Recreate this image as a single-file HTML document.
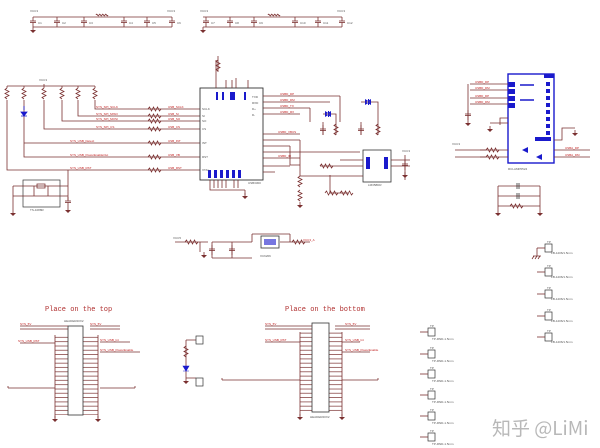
<!DOCTYPE html>
<html><head><meta charset="utf-8"><style>
html,body{margin:0;padding:0;background:#fff;width:600px;height:448px;overflow:hidden}
svg{display:block}
.w{stroke:#7a3030;stroke-width:0.8;fill:none}
.b{stroke:#1a1acc;fill:none}
.t{font-family:"Liberation Sans",sans-serif;font-size:3px;fill:#555}
.r{font-family:"Liberation Sans",sans-serif;font-size:3px;fill:#c02020}
</style></head><body>
<svg width="600" height="448" viewBox="0 0 600 448" xmlns="http://www.w3.org/2000/svg">
<defs>
<pattern id="pins" width="10" height="4.3" patternUnits="userSpaceOnUse"><line x1="0" y1="2" x2="10" y2="2" stroke="#7a3030" stroke-width="0.7"/></pattern>
<g id="cap"><line x1="0" y1="0" x2="0" y2="4" class="w"/><line x1="-3" y1="4" x2="3" y2="4" class="w"/><line x1="-3" y1="5.5" x2="3" y2="5.5" class="w"/><line x1="0" y1="5.5" x2="0" y2="10" class="w"/></g>
<g id="gnd"><line x1="0" y1="0" x2="0" y2="3" class="w"/><path d="M-3 3H3L0 6Z" fill="#7a3030"/></g>
<g id="res"><path d="M0 0l1.5 -2l2 4l2 -4l2 4l2 -4l2 4l1.5 -2" class="w"/></g>
<g id="vres"><path d="M0 0l-2 1.5l4 2l-4 2l4 2l-4 2l2 1.5" class="w"/></g>
<g id="tp"><rect x="0" y="0" width="7" height="8" fill="none" stroke="#333" stroke-width="0.7"/><line x1="-8" y1="4" x2="0" y2="4" class="w"/><text x="2" y="-1" class="t">TP</text><text x="4" y="12" class="t">TP-RND-1.5mm</text></g>
<g id="tp2"><rect x="0" y="0" width="7" height="8" fill="none" stroke="#333" stroke-width="0.7"/><line x1="-8" y1="4" x2="0" y2="4" class="w"/><text x="2" y="-1" class="t">TP</text><text x="6" y="10" class="t">FB-1206/1.5mm</text></g>
</defs>

<!-- top power rails -->
<path d="M33 17H172M33 27H172M203 17H342M203 27H342" class="w"/>
<use href="#gnd" x="33" y="27"/><use href="#gnd" x="203" y="27"/>
<g>
<use href="#cap" x="33" y="17"/><use href="#cap" x="57" y="17"/><use href="#cap" x="84" y="17"/><use href="#cap" x="124" y="17"/><use href="#cap" x="147" y="17"/><use href="#cap" x="172" y="17"/>
<use href="#cap" x="206" y="17"/><use href="#cap" x="230" y="17"/><use href="#cap" x="254" y="17"/><use href="#cap" x="295" y="17"/><use href="#cap" x="318" y="17"/><use href="#cap" x="342" y="17"/>
</g>
<path d="M96 15c1-3 2 3 3 0c1-3 2 3 3 0c1-3 2 3 3 0c1-3 2 3 3 0M268 15c1-3 2 3 3 0c1-3 2 3 3 0c1-3 2 3 3 0c1-3 2 3 3 0" class="w"/>
<text x="30" y="12" class="t">VCC3</text><text x="167" y="12" class="t">VCC3</text><text x="200" y="12" class="t">VCC3</text><text x="337" y="12" class="t">VCC3</text>
<text x="38" y="24" class="t">C1</text><text x="62" y="24" class="t">C2</text><text x="89" y="24" class="t">C3</text><text x="129" y="24" class="t">C4</text><text x="152" y="24" class="t">C5</text><text x="177" y="24" class="t">C6</text>
<text x="211" y="24" class="t">C7</text><text x="235" y="24" class="t">C8</text><text x="259" y="24" class="t">C9</text><text x="300" y="24" class="t">C10</text><text x="323" y="24" class="t">C11</text><text x="347" y="24" class="t">C12</text>

<!-- left resistor bank -->
<path d="M7 86H95M44 84V86" class="w"/><text x="39" y="81" class="t">VCC3</text>
<g><use href="#vres" x="7" y="88"/><use href="#vres" x="24" y="88"/><use href="#vres" x="44" y="88"/><use href="#vres" x="62" y="88"/><use href="#vres" x="78" y="88"/><use href="#vres" x="95" y="88"/></g>
<path d="M7 86V88M24 86V88M44 86V88M62 86V88M78 86V88M95 86V88" class="w"/>
<path d="M95 100V109H200M78 100V116H200M62 100V121H200M44 100V129H200M24 100V143H200M24 143V157H200M7 100V170H200M24 143V100" class="w"/>
<path d="M24 106V110M21 112H27L24 116ZM21 116H27" fill="#1a1acc" stroke="#1a1acc" stroke-width="0.8"/>
<path d="M68 170V186" class="w"/>
<use href="#res" x="148" y="109"/><use href="#res" x="148" y="116"/><use href="#res" x="148" y="121"/><use href="#res" x="148" y="129"/><use href="#res" x="148" y="143"/><use href="#res" x="148" y="157"/><use href="#res" x="148" y="170"/>
<g class="r"><text x="96" y="108">SYS_SPI_SCLK</text><text x="96" y="115">SYS_SPI_MISO</text><text x="96" y="120">SYS_SPI_MOSI</text><text x="96" y="128">SYS_SPI_CS</text><text x="70" y="142">SYS_USB_Detect</text><text x="70" y="156">SYS_USB_PowerEnableOut</text><text x="70" y="169">SYS_USB_RST</text>
<text x="168" y="108">USB_SCLK</text><text x="168" y="115">USB_SI</text><text x="168" y="120">USB_SO</text><text x="168" y="128">USB_CS</text><text x="168" y="142">USB_INT</text><text x="168" y="156">USB_VB</text><text x="168" y="169">USB_RST</text></g>
<!-- switch -->
<rect x="23" y="180" width="37" height="27" fill="none" stroke="#333" stroke-width="0.7"/>
<path d="M13 186H68M13 196H68M13 186V210M68 186V200M34 186V196M48 186V196M37 184H45V188H37Z" class="w"/>
<use href="#gnd" x="13" y="210"/><use href="#gnd" x="68" y="207"/><use href="#cap" x="68" y="197"/>
<text x="30" y="211" class="t">TS-1088R</text>

<!-- U1 -->
<rect x="200" y="88" width="63" height="92" fill="none" stroke="#333" stroke-width="0.9"/>
<path d="M216 60V88M218 56V72M226 80V88M232 80V88M236 78V88M248 80V88" class="w"/>
<use href="#vres" x="218" y="60"/>
<path d="M210 180V190H245M245 190V195" class="w"/><use href="#gnd" x="245" y="193"/>
<path d="M214 180V188M218 180V188M222 180V188M226 180V188M234 180V188M238 180V188" class="w"/>
<g fill="#1a1acc"><rect x="208" y="170" width="3" height="8"/><rect x="214" y="170" width="3" height="8"/><rect x="220" y="170" width="3" height="8"/><rect x="226" y="170" width="3" height="8"/><rect x="232" y="170" width="3" height="8"/><rect x="238" y="170" width="3" height="8"/>
<rect x="216" y="92" width="2" height="8"/><rect x="222" y="92" width="2" height="8"/><rect x="230" y="92" width="5" height="8"/><rect x="244" y="92" width="2" height="8"/></g>
<g class="t"><text x="202" y="110">SCLK</text><text x="202" y="117">SI</text><text x="202" y="122">SO</text><text x="202" y="130">CS</text><text x="202" y="144">INT</text><text x="202" y="158">RST</text><text x="202" y="171">XTAL</text><text x="252" y="98">TXD</text><text x="252" y="104">RXD</text><text x="252" y="110">D+</text><text x="252" y="116">D-</text><text x="248" y="184">USB3300</text></g>
<path d="M263 96H340M263 102H330M263 108H310M263 114H300M263 134H300M263 140H300M263 146H290M263 152H360M263 158H300M263 166H290M263 172H275" class="w"/>
<g class="r"><text x="280" y="95">USBD_DP</text><text x="280" y="101">USBD_DM</text><text x="280" y="107">USBD_TX</text><text x="280" y="113">USBD_RX</text><text x="278" y="133">USBD_VBUS</text><text x="278" y="157">USBD_ID</text></g>
<!-- diodes & caps right of U1 -->
<path d="M340 96V122M361 102H378V122M323 114H336V122M310 108V122M378 122V135M361 122V135M323 122V135M336 122V135" class="w"/>
<path d="M365 99L370 102L365 105ZM371 99L366 102L371 105ZM325 111L330 114L325 117ZM331 111L326 114L331 117Z" fill="#1a1acc"/>
<g fill="#1a1acc"><rect x="368" y="99" width="1" height="6"/><rect x="328" y="111" width="1" height="6"/></g>
<use href="#cap" x="323" y="125"/><use href="#cap" x="361" y="125"/>
<use href="#vres" x="336" y="124"/><use href="#vres" x="378" y="124"/>
<!-- opamp -->
<rect x="363" y="150" width="28" height="32" fill="none" stroke="#333" stroke-width="0.8"/>
<rect x="366" y="157" width="4" height="12" fill="#1a1acc"/><rect x="384" y="157" width="4" height="12" fill="#1a1acc"/>
<path d="M290 146V165H300M300 140V176H363M340 160H363M320 166H363M330 175V193H348M391 160H410M391 166H410M405 155V170M405 170V180" class="w"/>
<use href="#res" x="320" y="166"/><use href="#res" x="325" y="193"/><use href="#res" x="340" y="193"/>
<use href="#vres" x="300" y="176"/><use href="#vres" x="300" y="190"/><use href="#gnd" x="300" y="202"/>
<use href="#cap" x="405" y="160"/><use href="#gnd" x="405" y="172"/>
<text x="368" y="186" class="t">LM358DR</text><text x="402" y="152" class="t">VCC3</text>

<!-- U3 -->
<rect x="508" y="74" width="46" height="89" fill="none" stroke="#1a1acc" stroke-width="1.4"/>
<g fill="#1a1acc"><rect x="544" y="74" width="10" height="4"/><rect x="508" y="82" width="7" height="5"/><rect x="508" y="89" width="7" height="5"/><rect x="508" y="96" width="7" height="5"/><rect x="508" y="103" width="7" height="5"/><rect x="535" y="137" width="16" height="4"/>
<rect x="546" y="82" width="4" height="4"/><rect x="546" y="89" width="4" height="4"/><rect x="546" y="96" width="4" height="4"/><rect x="546" y="103" width="4" height="4"/><rect x="546" y="110" width="4" height="4"/><rect x="546" y="117" width="4" height="4"/><rect x="546" y="124" width="4" height="4"/><rect x="546" y="131" width="4" height="4"/>
<path d="M522 150L528 147L528 153ZM536 157L542 154L542 160Z"/></g>
<path d="M520 85h14M520 100h14" stroke="#1a1acc" stroke-width="1.5" fill="none"/>
<path d="M468 84V120M470 84H508M470 90H508M470 98H508M470 104H508M508 118H500V125M490 123H508M480 150H508M480 157H508M554 150H590M554 157H590M554 140H562V128H575" class="w"/>
<use href="#cap" x="468" y="110"/><use href="#gnd" x="468" y="120"/><use href="#gnd" x="490" y="126"/><use href="#gnd" x="575" y="130"/>
<use href="#res" x="486" y="150"/><use href="#res" x="486" y="157"/>
<path d="M455 150H486M455 157H486" class="w"/><text x="452" y="145" class="t">VCC3</text>
<g class="r"><text x="475" y="83">USBD_DP</text><text x="475" y="89">USBD_DM</text><text x="475" y="97">USBD_DP</text><text x="475" y="103">USBD_DM</text><text x="565" y="149">USBA_DP</text><text x="565" y="156">USBA_DM</text></g>
<text x="508" y="170" class="t">RCLAMP0524</text>
<!-- U3 bottom caps -->
<path d="M498 186H540M498 196H540M498 206H540M498 186V210M540 186V210" class="w"/>
<path d="M517 183V189M519 183V189M517 193V199M519 193V199" stroke="#333" stroke-width="0.8"/>
<use href="#res" x="510" y="206"/><use href="#gnd" x="498" y="210"/><use href="#gnd" x="540" y="210"/>

<!-- crystal / regulator -->
<path d="M175 242H208M200 242V252M212 242H252M212 242V258M232 242V258M212 258H252M252 234V242M252 234H290M290 234V242M280 242H310" class="w"/>
<use href="#res" x="185" y="242"/><use href="#res" x="292" y="242"/>
<use href="#cap" x="212" y="245"/><use href="#cap" x="232" y="245"/><use href="#gnd" x="204" y="252"/>
<rect x="261" y="236" width="18" height="12" fill="none" stroke="#333" stroke-width="0.8"/>
<rect x="264" y="239" width="12" height="6" fill="#1a1acc" opacity="0.6"/>
<text x="260" y="257" class="t">XC6206</text><text x="173" y="239" class="t">VCC5</text><text x="303" y="241" class="r">VCC3_A</text>

<!-- Place on the top / bottom -->
<text x="45" y="311" font-family="Liberation Mono,monospace" font-size="7" fill="#b03030">Place on the top</text>
<text x="285" y="311" font-family="Liberation Mono,monospace" font-size="7" fill="#b03030">Place on the bottom</text>
<rect x="55" y="335" width="13" height="80" fill="url(#pins)"/><rect x="83" y="335" width="15" height="80" fill="url(#pins)"/>
<rect x="68" y="326" width="15" height="89" fill="#fff" stroke="#333" stroke-width="0.8"/>
<path d="M20 326H68M20 329H68M90 326H120M90 329H120M20 343H55M100 342H130M100 352H140M55 335V418M98 335V418M8 388H55M100 388H135M8 386V388M135 386V388" class="w"/>
<use href="#gnd" x="55" y="416"/><use href="#gnd" x="98" y="416"/>
<rect x="300" y="332" width="12" height="80" fill="url(#pins)"/><rect x="329" y="332" width="13" height="80" fill="url(#pins)"/>
<rect x="312" y="323" width="17" height="89" fill="#fff" stroke="#333" stroke-width="0.8"/>
<path d="M265 326H312M265 329H312M335 326H370M335 329H370M265 342H300M342 342H360M342 352H370M300 332V416M342 332V416M222 380H300M342 380H378M222 378V380M378 378V380" class="w"/>
<use href="#gnd" x="300" y="414"/><use href="#gnd" x="342" y="414"/>
<g class="r"><text x="20" y="325">SYS_5V</text><text x="90" y="325">SYS_5V</text><text x="18" y="342">SYS_USB_RST</text><text x="100" y="341">SYS_USB_Int</text><text x="100" y="351">SYS_USB_PowerEnable</text>
<text x="265" y="325">SYS_5V</text><text x="345" y="325">SYS_5V</text><text x="265" y="341">SYS_USB_RST</text><text x="345" y="341">SYS_USB_Int</text><text x="345" y="351">SYS_USB_PowerEnable</text></g>
<text x="64" y="322" class="t">HEADER20X2</text><text x="310" y="418" class="t">HEADER20X2</text>

<!-- small LED block -->
<path d="M186 340V378M186 340H196M186 378H196" class="w"/>
<use href="#vres" x="186" y="346"/>
<path d="M183 366H189L186 371Z M183 371H189" fill="#1a1acc" stroke="#1a1acc" stroke-width="0.6"/>
<use href="#gnd" x="186" y="378"/>
<rect x="196" y="336" width="7" height="8" fill="none" stroke="#333" stroke-width="0.7"/>
<rect x="196" y="378" width="7" height="8" fill="none" stroke="#333" stroke-width="0.7"/>

<!-- test points -->
<use href="#tp2" x="545" y="244"/><use href="#tp2" x="545" y="268"/><use href="#tp2" x="545" y="290"/><use href="#tp2" x="545" y="312"/><use href="#tp2" x="545" y="333"/>
<path d="M537 248V256M533 256H541M534 256l-2 3M537 256l-2 3M540 256l-2 3" class="w"/>
<use href="#tp" x="428" y="328"/><use href="#tp" x="428" y="350"/><use href="#tp" x="428" y="370"/><use href="#tp" x="428" y="391"/><use href="#tp" x="428" y="412"/><use href="#tp" x="428" y="433"/>

<text x="492" y="435" font-family="'Noto Sans CJK SC','Liberation Sans',sans-serif" font-size="19" fill="#b8b8b8">知乎 @LiMi</text>
</svg>
</body></html>
